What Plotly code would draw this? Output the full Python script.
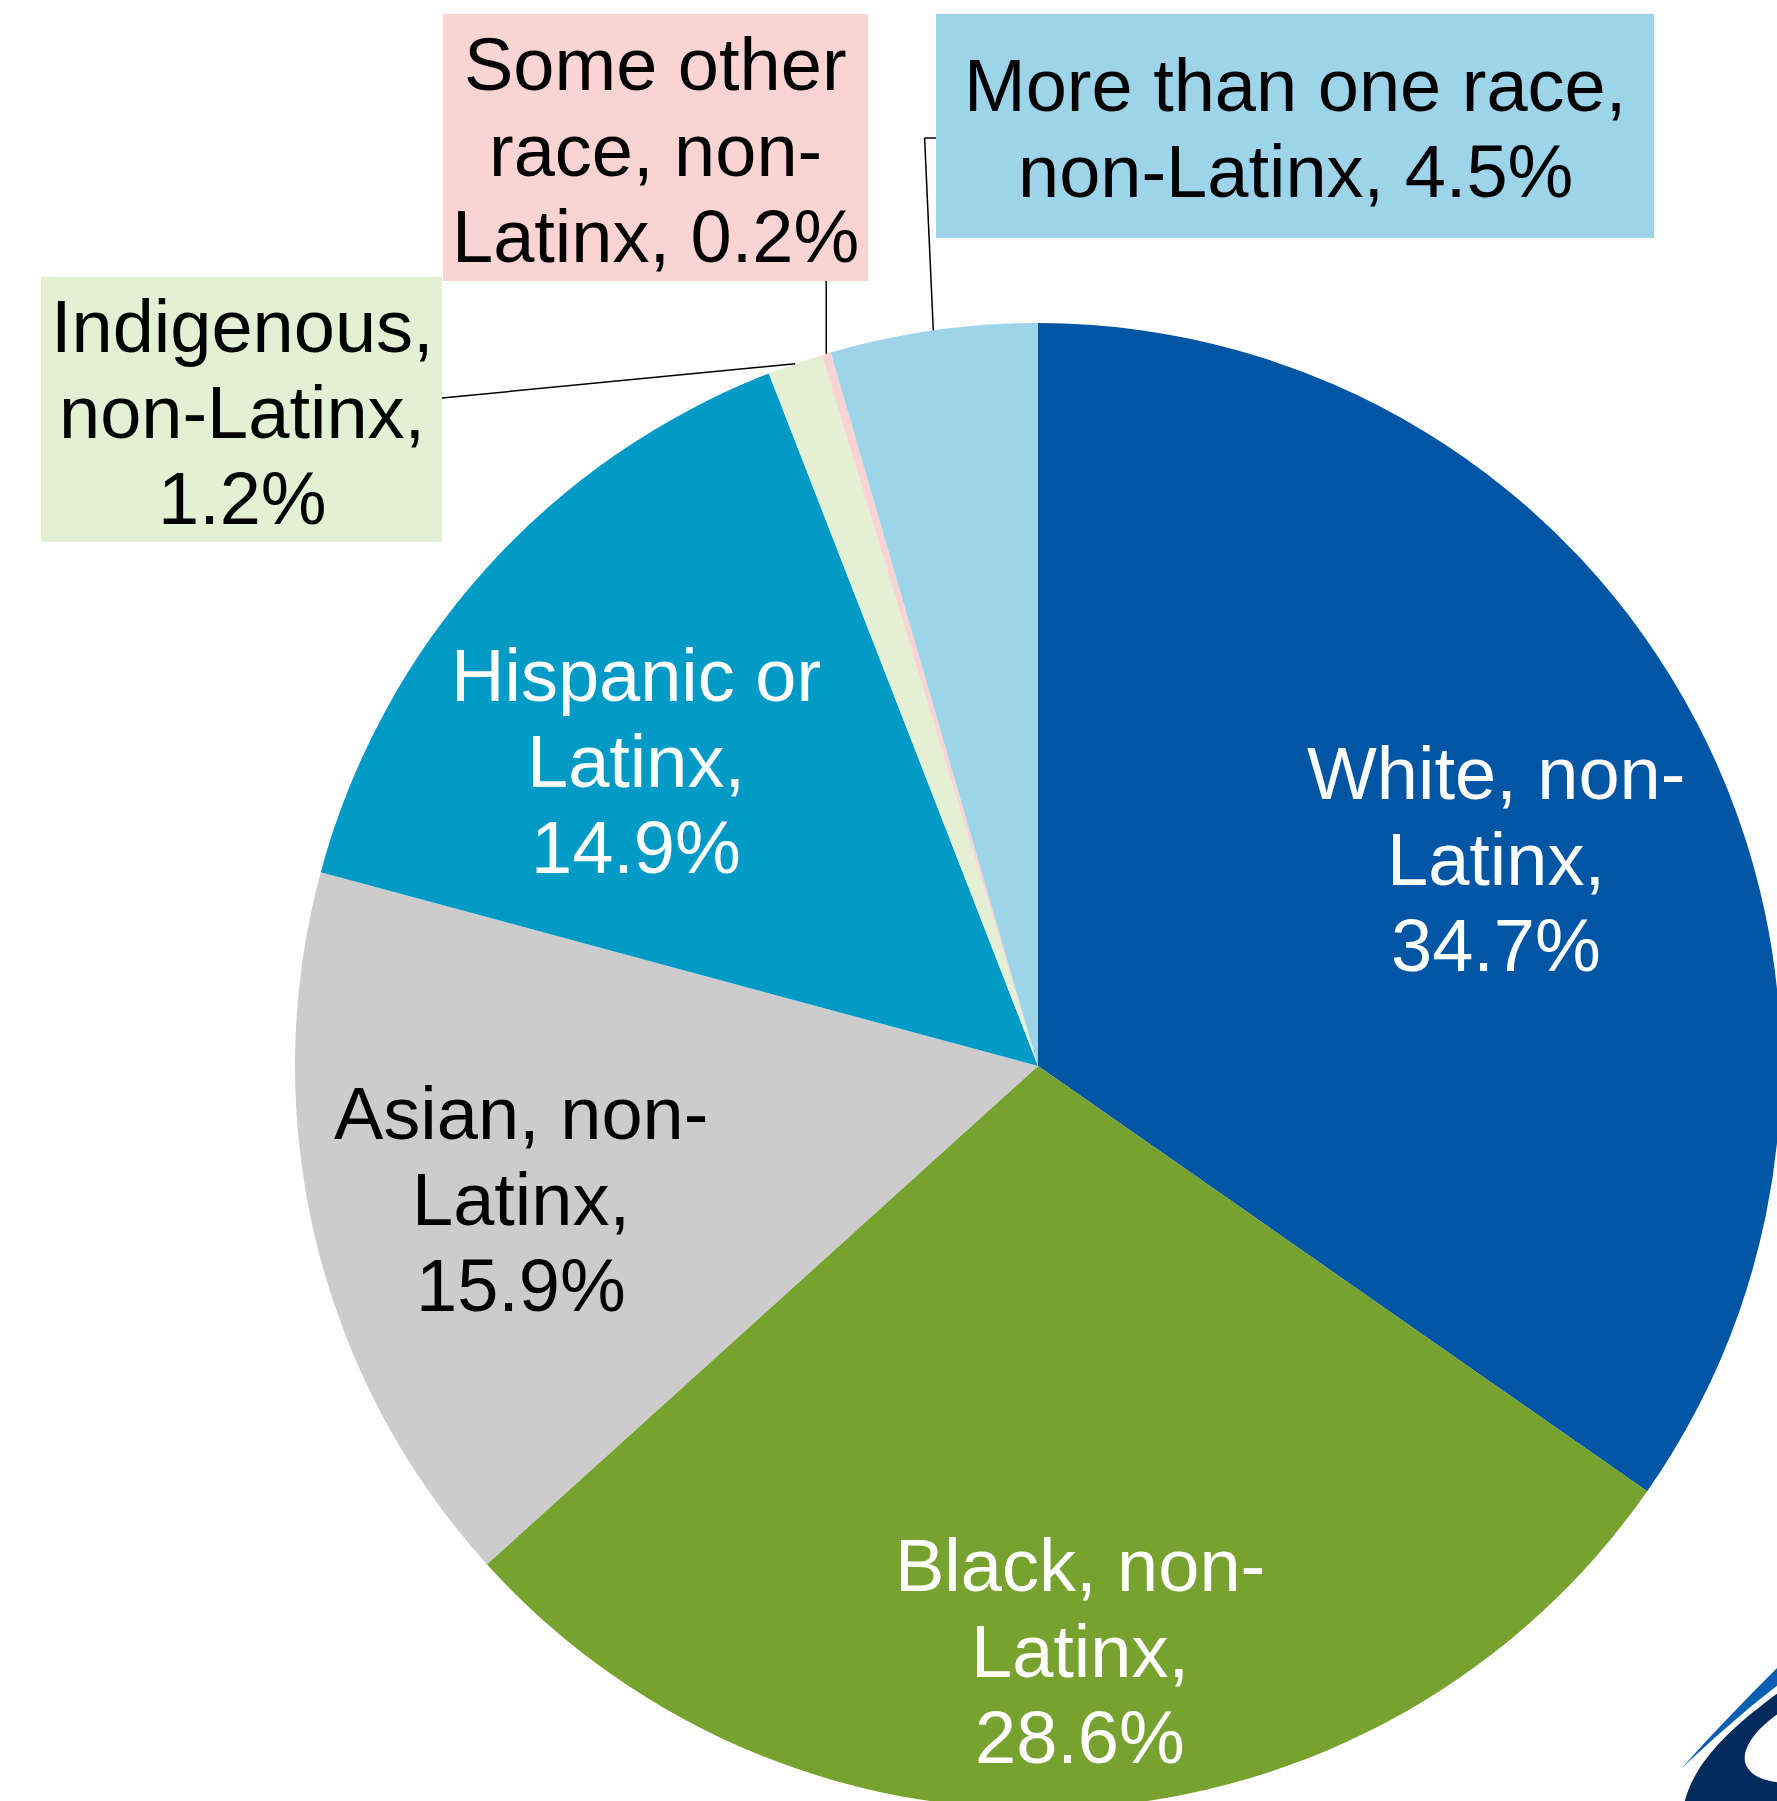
import math
import plotly.graph_objects as go

# ---- data -------------------------------------------------------------
categories = [
    "White, non-Latinx",
    "Black, non-Latinx",
    "Asian, non-Latinx",
    "Hispanic or Latinx",
    "Indigenous, non-Latinx",
    "Some other race, non-Latinx",
    "More than one race, non-Latinx",
]
shares = [34.7, 28.6, 15.9, 14.9, 1.2, 0.2, 4.5]
slice_colors = ["#0055A5", "#78A22F", "#CCCCCC", "#009AC7", "#E4F0D4", "#FAD4D2", "#9DD4EA"]

# label wording, one list of lines per category; "{v}" is filled from shares
label_lines = [
    ["White, non-", "Latinx,", "{v}%"],
    ["Black, non-", "Latinx,", "{v}%"],
    ["Asian, non-", "Latinx,", "{v}%"],
    ["Hispanic or", "Latinx,", "{v}%"],
    ["Indigenous,", "non-Latinx,", "{v}%"],
    ["Some other", "race, non-", "Latinx, {v}%"],
    ["More than one race,", "non-Latinx, {v}%"],
]

# ---- canvas geometry (pixels) ----------------------------------------
W, H = 1782, 1810
CX, CY, R = 1038, 1066, 743
FS = 74           # label font size
LINE = 86         # baseline-to-baseline distance
FONT = "Liberation Sans, Arial, sans-serif"


def px(x):
    return x / W


def py(y):
    return 1 - y / H


# label placement: centre x, first baseline, text colour, background box
label_style = [
    dict(cx=1496, base=799, color="white", box=None),
    dict(cx=1080, base=1591, color="white", box=None),
    dict(cx=521, base=1139, color="black", box=None),
    dict(cx=636, base=701, color="white", box=None),
    dict(cx=242, base=352, color="black", box=(41, 277, 442, 542)),
    dict(cx=655.5, base=90, color="black", box=(443, 14, 868, 281)),
    dict(cx=1295, base=111, color="black", box=(936, 14, 1654, 238)),
]

fig = go.Figure()
fig.add_trace(go.Pie(
    labels=categories,
    values=shares,
    sort=False,
    direction="clockwise",
    rotation=0,
    marker=dict(colors=slice_colors, line=dict(width=0)),
    textinfo="none",
    hoverinfo="label+percent",
    showlegend=False,
    domain=dict(x=[px(CX - R), px(CX + R)], y=[py(CY + R), py(CY - R)]),
))

shapes = []
annotations = []

# background boxes for the outside labels
for st, col in zip(label_style, slice_colors):
    if st["box"]:
        x0, y0, x1, y1 = st["box"]
        shapes.append(dict(type="rect", xref="paper", yref="paper",
                           x0=px(x0), x1=px(x1), y0=py(y1), y1=py(y0),
                           fillcolor=col, line=dict(width=0), layer="below"))

# label text, one annotation per line
for lines, st, v in zip(label_lines, label_style, shares):
    for i, ln in enumerate(lines):
        base = st["base"] + i * LINE
        annotations.append(dict(
            text=ln.format(v=f"{v:.1f}"), xref="paper", yref="paper",
            x=px(st["cx"]), y=py(base - 0.3465 * FS),
            xanchor="center", yanchor="middle", showarrow=False,
            font=dict(family=FONT, size=FS, color=st["color"]),
        ))


# leader lines: end on the arc at each small slice's mid-angle
def arc_point(idx):
    cum = sum(shares[:idx]) + shares[idx] / 2
    th = 2 * math.pi * cum / sum(shares)
    return CX + R * math.sin(th), CY - R * math.cos(th)


def seg(xa, ya, xb, yb):
    shapes.append(dict(type="line", xref="paper", yref="paper",
                       x0=px(xa), y0=py(ya), x1=px(xb), y1=py(yb),
                       line=dict(color="black", width=1.5), layer="above"))


ex, ey = arc_point(4)
seg(442, 398, ex, ey)
ex, ey = arc_point(5)
seg(ex, 281, ex, ey)
ex, ey = arc_point(6)
seg(936, 138, 924.6, 138)
seg(924.6, 138, ex, ey)

# corner logo fragment
logo_navy = ("M 1683,1810 C 1690,1762 1738,1722 1782,1690 L 1782,1711 "
             "C 1762,1724 1742,1744 1745,1762 C 1749,1776 1764,1781 1782,1783 L 1782,1810 Z")
logo_blue = ("M 1682,1768 C 1712,1734 1745,1700 1782,1663 L 1782,1682 "
             "C 1746,1709 1712,1740 1682,1768 Z")


def path_to_paper(path):
    out = []
    for tok in path.split():
        if "," in tok:
            a, b = tok.split(",")
            out.append(f"{px(float(a)):.5f},{py(float(b)):.5f}")
        else:
            out.append(tok)
    return " ".join(out)


shapes.append(dict(type="path", xref="paper", yref="paper", path=path_to_paper(logo_blue),
                   fillcolor="#0B5FB0", line=dict(width=0), layer="above"))
shapes.append(dict(type="path", xref="paper", yref="paper", path=path_to_paper(logo_navy),
                   fillcolor="#002B5C", line=dict(width=0), layer="above"))

fig.update_layout(
    width=W, height=H,
    margin=dict(l=0, r=0, t=0, b=0, pad=0),
    paper_bgcolor="white",
    plot_bgcolor="white",
    showlegend=False,
    shapes=shapes,
    annotations=annotations,
)

fig.write_html(
    "out.html",
    post_script="document.documentElement.style.overflow='hidden';"
                "document.body.style.overflow='hidden';document.body.style.margin='0';",
)
